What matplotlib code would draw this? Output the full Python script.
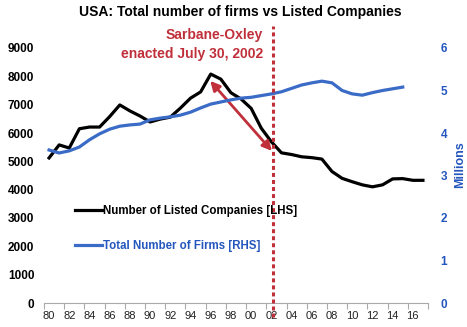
import matplotlib.pyplot as plt
from matplotlib.ticker import FixedLocator

plt.rcParams['font.family'] = ['Liberation Sans', 'DejaVu Sans']

RED = '#C0303A'
BLUE_LINE = '#3A6BC6'
BLUE_TEXT = '#2457BE'

years = list(range(1980, 2018))
listed = [5120, 5580, 5470, 6150, 6210, 6210, 6580, 6990, 6780, 6600,
          6390, 6490, 6560, 6880, 7230, 7450, 8080, 7900, 7420, 7200,
          6870, 6170, 5690, 5300, 5240, 5160, 5130, 5080, 4640, 4400,
          4280, 4170, 4100, 4170, 4380, 4390, 4330, 4330]
firm_years = list(range(1980, 2016))
firms = [3.60, 3.53, 3.58, 3.67, 3.84, 3.98, 4.09, 4.16, 4.19, 4.21,
         4.31, 4.35, 4.38, 4.42, 4.49, 4.59, 4.68, 4.73, 4.78, 4.82,
         4.84, 4.88, 4.92, 4.97, 5.05, 5.13, 5.18, 5.22, 5.18, 5.00,
         4.92, 4.89, 4.95, 5.00, 5.04, 5.08]

sox_year = 2002.2
arrow_start = (1995.95, 7840)
arrow_end = (2002.06, 5365)

fig = plt.figure(figsize=(4.67, 3.27), dpi=100)
ax = fig.add_axes([44 / 467, 1 - 303 / 327, 384 / 467, 277 / 327])
ax2 = ax.twinx()

ax.plot(years, listed, color='black', lw=2.3, solid_joinstyle='round',
        label='Number of Listed Companies [LHS]', zorder=3)
ax2.plot(firm_years, firms, color=BLUE_LINE, lw=2.3, solid_joinstyle='round',
         label='Total Number of Firms [RHS]', zorder=3)

ax.set_xlim(1979.5, 2017.5)
ax.set_ylim(0, 9000 * 277 / 255)
ax2.set_ylim(0, 6 * 277 / 255)
ax.set_yticks(range(0, 9001, 1000))
ax2.set_yticks(range(0, 7))

ax.set_xticks(range(1980, 2018, 2))
ax.set_xticklabels([f"{y % 100:02d}" for y in range(1980, 2018, 2)], fontsize=8, color='#222222')
ax.xaxis.set_minor_locator(FixedLocator([1979.5 + 2 * i for i in range(20)]))
ax.tick_params(axis='x', which='major', length=0, pad=6)
ax.tick_params(axis='x', which='minor', length=4, color='#AAAAAA', width=0.8)

ax.tick_params(axis='y', length=0, pad=7)
for lbl in ax.get_yticklabels():
    lbl.set_fontsize(8.5)
    lbl.set_fontweight('bold')
ax2.tick_params(axis='y', length=0, pad=9, colors=BLUE_TEXT)
for lbl in ax2.get_yticklabels():
    lbl.set_fontsize(8.5)
    lbl.set_fontweight('bold')
ax2.set_ylabel('Millions', color=BLUE_TEXT, fontsize=9, fontweight='bold', labelpad=5)

for a in (ax, ax2):
    for side in ('top', 'left', 'right'):
        a.spines[side].set_visible(False)
ax.spines['bottom'].set_color('#AAAAAA')
ax.spines['bottom'].set_linewidth(0.8)
ax2.spines['bottom'].set_visible(False)

# Sarbanes-Oxley marker
ax2.axvline(sox_year, ymin=-0.05, ymax=1, color=RED, lw=2.2,
            linestyle=(0, (1.3, 1.0)), clip_on=False, zorder=5)
ax.annotate('', xy=arrow_end, xytext=arrow_start,
            arrowprops=dict(arrowstyle='<|-|>', color=RED, lw=2,
                            mutation_scale=14, shrinkA=0, shrinkB=0))
fig.text(263 / 467, 1 - 44.5 / 327, 'Sarbane-Oxley\nenacted July 30, 2002',
         ha='right', va='center', multialignment='right', color=RED,
         fontsize=10, fontweight='bold', linespacing=1.45)

fig.suptitle('USA: Total number of firms vs Listed Companies', x=0.515, y=0.985,
             fontsize=10, fontweight='bold')

h1, l1 = ax.get_legend_handles_labels()
h2, l2 = ax2.get_legend_handles_labels()
leg = ax2.legend(h1 + h2, l1 + l2, loc='upper left', frameon=False,
                 bbox_to_anchor=(75 / 467, 1 - 205 / 327), bbox_transform=fig.transFigure,
                 borderpad=0, borderaxespad=0, handlelength=2.3, handletextpad=0.1,
                 labelspacing=2.0, prop={'size': 8.3, 'weight': 'bold'})
for txt, col in zip(leg.get_texts(), ['black', BLUE_TEXT]):
    txt.set_color(col)

fig.savefig('out.png', dpi=100)
